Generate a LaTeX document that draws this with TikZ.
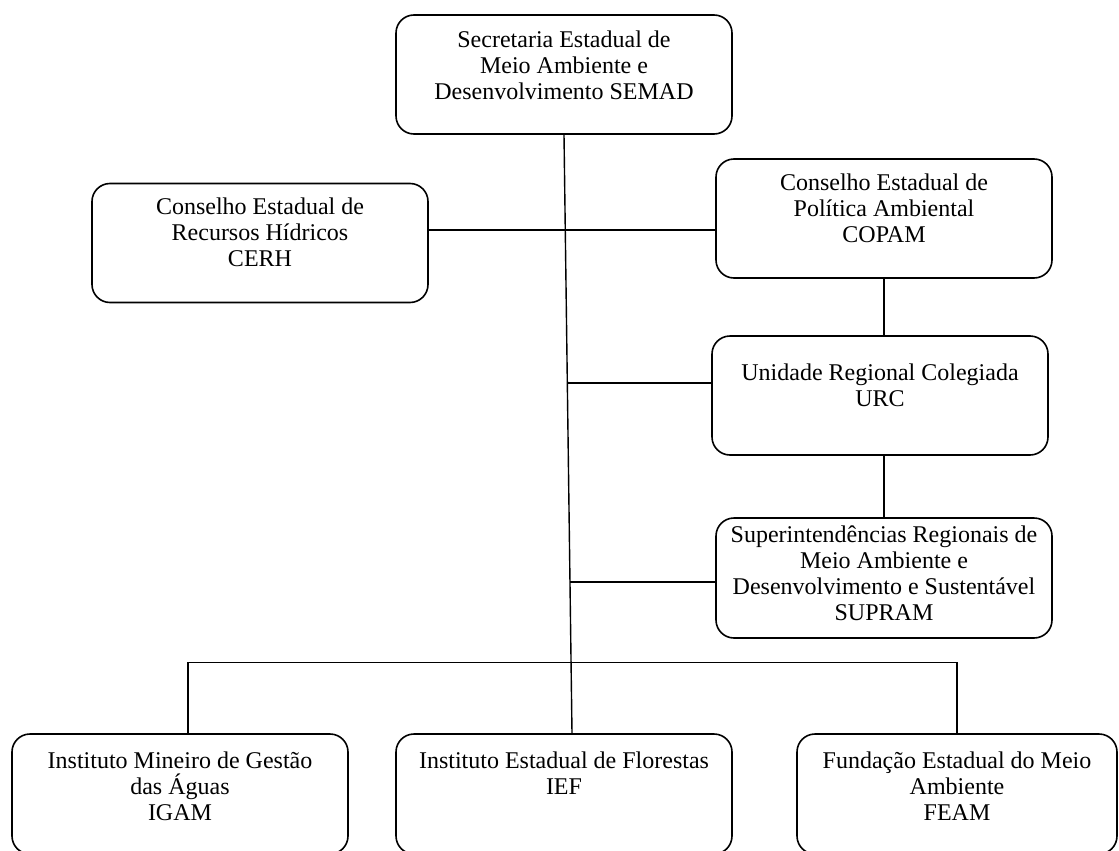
\documentclass[tikz,border=0pt]{standalone}
\usepackage{fontspec}
\setmainfont{Liberation Serif}
\usetikzlibrary{calc}

\begin{document}
\begin{tikzpicture}
[
	x=1pt,
	y=-1pt,
	orgbox/.style={draw,rounded corners=18pt,line width=1.6pt,inner sep=0pt,minimum width=336pt,minimum height=119pt},
	orgtext/.style={anchor=north,align=center,inner sep=0pt,font=\fontsize{24}{26}\selectfont,execute at begin node={\rule{0pt}{18pt}}},
	link/.style={line width=1.4pt}
]

	\useasboundingbox (0,0) rectangle (1119,851);

	% boxes
	\node[orgbox] (semad) at (564,74.5) {};
	\node[orgbox] (cerh) at (260,243) {};
	\node[orgbox] (copam) at (884,218.5) {};
	\node[orgbox] (urc) at (880,395.5) {};
	\node[orgbox,minimum height=120pt] (supram) at (884,578) {};
	\node[orgbox,minimum height=120pt] (igam) at (180,794) {};
	\node[orgbox,minimum height=120pt] (ief) at (564,794) {};
	\node[orgbox,minimum height=120pt,minimum width=320pt] (feam) at (957,794) {};

	% texts
	\node[orgtext] (semadtxt) at ([yshift=-16pt]semad.north) {Secretaria Estadual de\\Meio Ambiente e\\Desenvolvimento SEMAD};
	\node[orgtext] (cerhtxt) at ([yshift=-15pt]cerh.north) {Conselho Estadual de\\Recursos Hídricos\\CERH};
	\node[orgtext] (copamtxt) at ([yshift=-15pt]copam.north) {Conselho Estadual de\\Política Ambiental\\COPAM};
	\node[orgtext] (urctxt) at ([yshift=-28pt]urc.north) {Unidade Regional Colegiada\\URC};
	\node[orgtext] (supramtxt) at ([yshift=-8pt]supram.north) {Superintendências Regionais de\\Meio Ambiente e\\Desenvolvimento e Sustentável\\SUPRAM};
	\node[orgtext] (igamtxt) at ([yshift=-18pt]igam.north) {Instituto Mineiro de Gestão\\das Águas\\IGAM};
	\node[orgtext] (ieftxt) at ([yshift=-18pt]ief.north) {Instituto Estadual de Florestas\\IEF};
	\node[orgtext] (feamtxt) at ([yshift=-18pt]feam.north) {Fundação Estadual do Meio\\Ambiente\\FEAM};

	% trunk
	\coordinate (trunkend) at ([xshift=8pt]ief.north);
	\coordinate (jurc) at ($(semad.south)!0.415!(trunkend)$);
	\coordinate (jsup) at ($(semad.south)!0.747!(trunkend)$);
	\coordinate (jbus) at ($(semad.south)!0.882!(trunkend)$);
	\draw[link] (semad.south) -- (trunkend);

	% branches
	\draw[link] ([yshift=13pt]cerh.east) -- ([yshift=13pt]cerh.east -| copam.west);
	\draw[link] (jurc) -- (jurc -| urc.west);
	\draw[link] (jsup) -- (jsup -| supram.west);
	\draw[link] (copam.south) -- (copam.south |- urc.north);
	\draw[link] (urc.south -| supram.north) -- (supram.north);
	\draw[link] ([xshift=8pt]igam.north) |- (jbus) -| (feam.north);

\end{tikzpicture}
\end{document}
